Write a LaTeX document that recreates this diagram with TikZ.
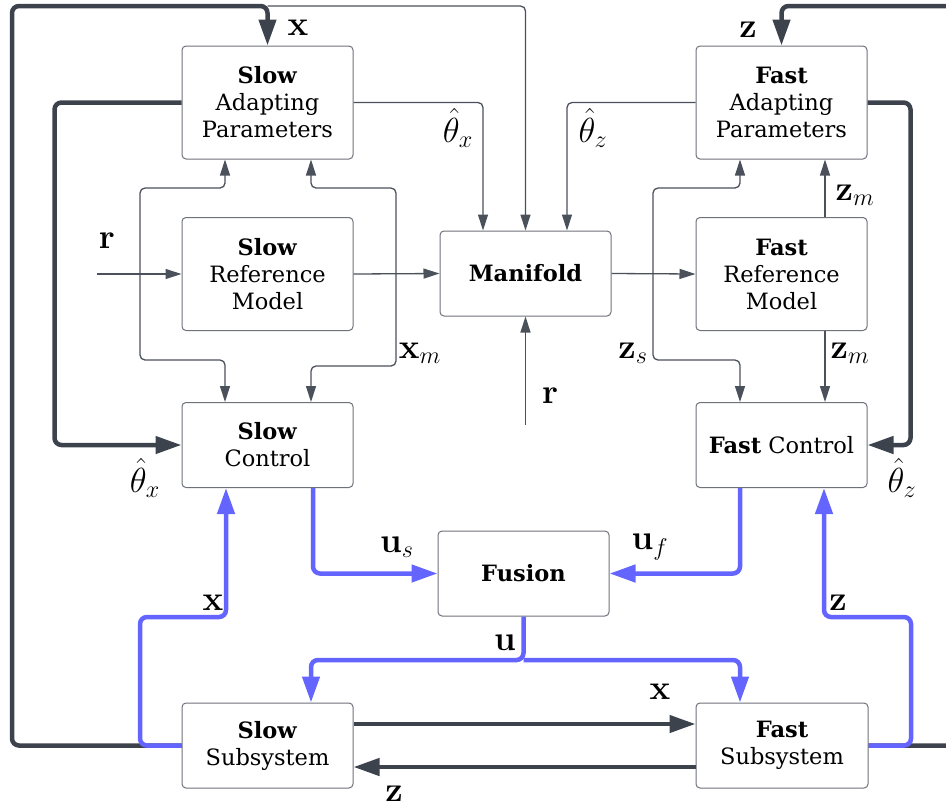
\documentclass[tikz,border=0pt]{standalone}
\usepackage[no-math]{fontspec}
\setmainfont{DejaVu Serif}
\usetikzlibrary{arrows.meta,calc}
\definecolor{ink}{HTML}{3D434D}
\definecolor{wire}{HTML}{4B515B}
\definecolor{sig}{HTML}{6464FF}
\definecolor{frame}{HTML}{6E727A}
% signal labels: math at an enlarged scale
\newcommand\siglab[1]{\scalebox{1.4}{$#1$}}

\begin{document}
\begin{tikzpicture}[x=1pt,y=-1pt,
  blk/.style={draw=frame,line width=1pt,rounded corners=4pt,minimum width=171pt,
    align=center,font=\fontsize{22.5}{27}\selectfont,inner sep=0pt},
  tall/.style={blk,minimum height=113pt},
  short/.style={blk,minimum height=85pt},
  thn/.style={draw=wire,line width=1.3pt,rounded corners=5pt,-{Triangle[length=16pt,width=10pt]}},
  thk/.style={draw=ink,line width=4.5pt,rounded corners=7pt,-{Triangle[length=26pt,width=17pt]}},
  blu/.style={draw=sig,line width=4.5pt,rounded corners=7pt,-{Triangle[length=26pt,width=17pt]}},
  lbl/.style={font=\fontsize{24}{26}\selectfont,inner sep=0pt}]
\useasboundingbox (0,0) rectangle (946,807);
\clip (0,0) rectangle (946,807);

% blocks
\node[tall]  (sa) at (267.5,102.5) {\textbf{Slow}\\Adapting\\Parameters};
\node[tall]  (sr) at (267.5,274)   {\textbf{Slow}\\Reference\\Model};
\node[short] (mf) at (525.5,273.5) {\textbf{Manifold}};
\node[tall]  (fa) at (781.5,102.5) {\textbf{Fast}\\Adapting\\Parameters};
\node[tall]  (fr) at (781.5,274)   {\textbf{Fast}\\Reference\\Model};
\node[short] (sc) at (267.5,445)   {\textbf{Slow}\\Control};
\node[short] (fc) at (781.5,445)   {\textbf{Fast} Control};
\node[short] (fu) at (523.5,573.5) {\textbf{Fusion}};
\node[short] (ss) at (267.5,745.5) {\textbf{Slow}\\Subsystem};
\node[short,minimum width=172pt] (fs) at (782,745.5) {\textbf{Fast}\\Subsystem};

% branch points
\coordinate (xtap) at (267.5,6);
\coordinate (rin)  at (97,274);
\coordinate (rj)   at (140,274);
\coordinate (xj)   at (396,274);
\coordinate (zj)   at (653,274);
\coordinate (rmf)  at (525.5,425);
\coordinate (uj)   at (523.5,660);

% outer state loops
\draw[thk] (ss.west) -| (12,6) -| (sa.north);
\draw[thn] (xtap) -| (mf.north);
\draw[thk] (fs.east) -| (962,6) -| (fa.north);

% parameter estimates
\draw[thn] (sa.east) -| ($(mf.north)+(-42.5,0)$);
\draw[thn] (fa.west) -| ($(mf.north)+(41.5,0)$);
\draw[thk] (sa.west) -- ++(-127,0) |- (sc.west);
\draw[thk] (fa.east) -- ++(43,0) |- (fc.east);

% reference signals
\draw[thn] (rin) -- (sr.west);
\draw[thn] (rj) |- (225,188) -- (225,0 |- sa.south);
\draw[thn] (rj) |- (225,360) -- (225,0 |- sc.north);
\draw[thn] (sr.east) -- (mf.west);
\draw[thn] (xj) |- (311,188) -- (311,0 |- sa.south);
\draw[thn] (xj) |- (311,366) -- (311,0 |- sc.north);
\draw[thn] (mf.east) -- (fr.west);
\draw[thn] (zj) |- (740,188) -- (740,0 |- fa.south);
\draw[thn] (zj) |- (740,360) -- (740,0 |- fc.north);
\draw[thn] (825,0 |- fr.north) -- (825,0 |- fa.south);
\draw[thn] (825,0 |- fr.south) -- (825,0 |- fc.north);
\draw[thn] (rmf) -- (mf.south);

% coupling between subsystems
\draw[thk] (ss.east |- 0,724) -- (fs.west |- 0,724);
\draw[thk] (fs.west |- 0,767) -- (ss.east |- 0,767);

% control signals
\draw[blu] (313,0 |- sc.south) |- (fu.west);
\draw[blu] (740,0 |- fc.south) |- (fu.east);
\draw[blu] (fu.south) -- (uj) -| (311,0 |- ss.north);
\draw[blu] (uj) -| (740,0 |- fs.north);
\draw[blu] (ss.west) -| (140,617) -| (226,0 |- sc.south);
\draw[blu] (fs.east) -| (911,617) -| (824,0 |- fc.south);

% labels
\node[lbl] at (298,28)  {\siglab{\mathbf{x}}};
\node[lbl] at (748,30)  {\siglab{\mathbf{z}}};
\node[lbl] at (458,128) {\siglab{\hat{\theta}_x}};
\node[lbl] at (593,128) {\siglab{\hat{\theta}_z}};
\node[lbl] at (107,241) {\siglab{\mathbf{r}}};
\node[lbl] at (420,353) {\siglab{\mathbf{x}_m}};
\node[lbl] at (855,195) {\siglab{\mathbf{z}_m}};
\node[lbl] at (633,353) {\siglab{\mathbf{z}_s}};
\node[lbl] at (850,353) {\siglab{\mathbf{z}_m}};
\node[lbl] at (550,396) {\siglab{\mathbf{r}}};
\node[lbl] at (145,478) {\siglab{\hat{\theta}_x}};
\node[lbl] at (902,478) {\siglab{\hat{\theta}_z}};
\node[lbl] at (397,547) {\siglab{\mathbf{u}_s}};
\node[lbl] at (650,547) {\siglab{\mathbf{u}_f}};
\node[lbl] at (213,603) {\siglab{\mathbf{x}}};
\node[lbl] at (838,603) {\siglab{\mathbf{z}}};
\node[lbl] at (505,643) {\siglab{\mathbf{u}}};
\node[lbl] at (660,692) {\siglab{\mathbf{x}}};
\node[lbl] at (394,794) {\siglab{\mathbf{z}}};
\end{tikzpicture}
\end{document}
